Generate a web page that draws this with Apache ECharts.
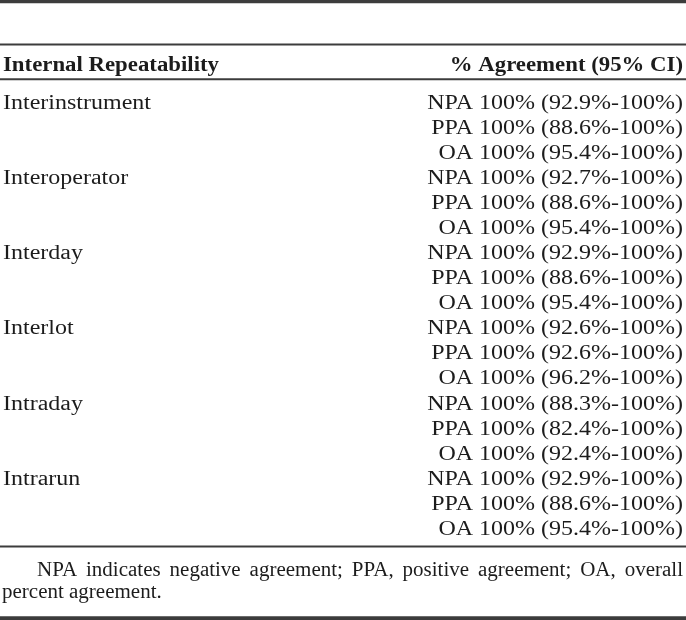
<!DOCTYPE html>
<html><head><meta charset="utf-8">
<script src="https://cdn.jsdelivr.net/npm/echarts@6/dist/echarts.min.js"></script>
<style>html,body{margin:0;padding:0;background:#fff}#c{width:686px;height:620px}</style>
</head><body><div id="c"></div>
<script>
// ---- data ----
const headers = ['Internal Repeatability', '% Agreement (95% CI)'];
const groups = ['Interinstrument', 'Interoperator', 'Interday', 'Interlot', 'Intraday', 'Intrarun'];
const measures = ['NPA', 'PPA', 'OA'];
const agreementPct = [
  [100, 100, 100], [100, 100, 100], [100, 100, 100],
  [100, 100, 100], [100, 100, 100], [100, 100, 100]
];
const ciLower = [
  [92.9, 88.6, 95.4], [92.7, 88.6, 95.4], [92.9, 88.6, 95.4],
  [92.6, 92.6, 96.2], [88.3, 82.4, 92.4], [92.9, 88.6, 95.4]
];
const ciUpper = [
  [100, 100, 100], [100, 100, 100], [100, 100, 100],
  [100, 100, 100], [100, 100, 100], [100, 100, 100]
];
const footnoteLine1 = 'NPA indicates negative agreement; PPA, positive agreement; OA, overall';
const footnoteLine2 = 'percent agreement.';

// ---- build rows ----
const rows = [];
groups.forEach((g, gi) => measures.forEach((m, mi) => rows.push({
  group: mi === 0 ? g : '',
  text: m + ' ' + agreementPct[gi][mi] + '% (' + ciLower[gi][mi].toFixed(1) + '%-' + ciUpper[gi][mi] + '%)'
})));
const rowKeys = rows.map((r, i) => 'r' + i);

const FAMILY = '"Liberation Serif", "Times New Roman", serif';
const BODY_FONT = '20px ' + FAMILY;
const HEAD_FONT = 'bold 20px ' + FAMILY;
const FOOT_FONT = '20px ' + FAMILY;
const SX = 1.2, HSX = 1.14, FSX = 1.05;
const INK = '#1c1c1c', RULE = '#3c3c3c';

const chart = echarts.init(document.getElementById('c'), null, {renderer: 'canvas'});

// justified footnote line
const ctx = document.createElement('canvas').getContext('2d');
ctx.font = FOOT_FONT;
const words = footnoteLine1.split(' ');
const wW = words.map(w => ctx.measureText(w).width * FSX);
const fx0 = 37, fx1 = 683;
const gap = (fx1 - fx0 - wW.reduce((a, b) => a + b, 0)) / (words.length - 1);
let cx = fx0;
const footEls = words.map((w, k) => {
  const el = {type: 'text', x: cx, y: 570.5, scaleX: FSX,
    style: {text: w, font: FOOT_FONT, fill: INK, align: 'left', verticalAlign: 'middle'}};
  cx += wW[k] + gap;
  return el;
});
footEls.push({type: 'text', x: 2, y: 592.5, scaleX: FSX,
  style: {text: footnoteLine2, font: FOOT_FONT, fill: INK, align: 'left', verticalAlign: 'middle'}});

const rule = (y, h) => ({type: 'rect', shape: {x: 0, y: y, width: 686, height: h}, style: {fill: RULE}});

chart.setOption({
  animation: false,
  grid: {left: 3, right: 3, top: 91.1, height: 451},
  xAxis: {type: 'value', min: 0, max: 1, show: false},
  yAxis: {type: 'category', data: rowKeys, inverse: true, show: false},
  graphic: [
    rule(0, 3.3), rule(43.5, 2), rule(78.3, 2), rule(545.5, 2), rule(616.3, 3.7),
    {type: 'text', x: 3, y: 65.5, scaleX: HSX,
      style: {text: headers[0], font: HEAD_FONT, fill: INK, align: 'left', verticalAlign: 'middle'}},
    {type: 'text', x: 683, y: 65.5, scaleX: HSX,
      style: {text: headers[1], font: HEAD_FONT, fill: INK, align: 'right', verticalAlign: 'middle'}}
  ].concat(footEls),
  series: [{
    type: 'custom',
    coordinateSystem: 'cartesian2d',
    data: rows.map((r, i) => [0, i]),
    renderItem: function (params, api) {
      const i = api.value(1);
      const pl = api.coord([0, i]);
      const pr = api.coord([1, i]);
      return {type: 'group', children: [
        {type: 'text', x: pl[0], y: pl[1], scaleX: SX,
          style: {text: rows[i].group, font: BODY_FONT, fill: INK, align: 'left', verticalAlign: 'middle'}},
        {type: 'text', x: pr[0], y: pr[1], scaleX: SX,
          style: {text: rows[i].text, font: BODY_FONT, fill: INK, align: 'right', verticalAlign: 'middle'}}
      ]};
    }
  }]
});
</script></body></html>
